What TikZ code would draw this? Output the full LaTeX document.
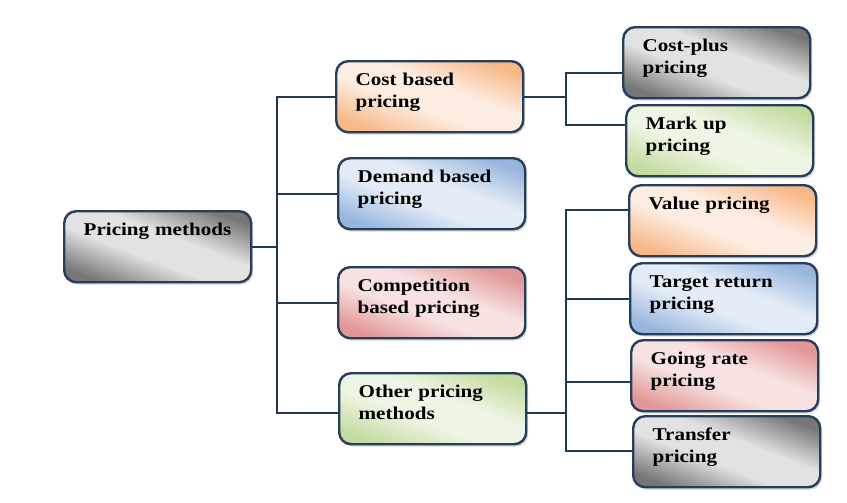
\documentclass[tikz,border=0pt]{standalone}
\usepackage{fontspec}
\setmainfont{Liberation Serif}[FakeStretch=1.17]
\usepackage{tikz}
\usetikzlibrary{shadows}
\definecolor{boxline}{RGB}{38,62,94}
\definecolor{linkcol}{RGB}{31,56,86}
\definecolor{orangedk}{RGB}{247,184,136}
\definecolor{orangelt}{RGB}{253,236,225}
\definecolor{bluedk}{RGB}{152,182,221}
\definecolor{bluelt}{RGB}{226,235,246}
\definecolor{reddk}{RGB}{226,150,150}
\definecolor{redlt}{RGB}{247,225,225}
\definecolor{greendk}{RGB}{196,219,160}
\definecolor{greenlt}{RGB}{238,245,228}
\definecolor{graydk}{RGB}{118,118,118}
\definecolor{graylt}{RGB}{226,226,226}
\newcommand{\maketint}[1]{\pgfdeclareverticalshading{#1tint}{100bp}{color(0bp)=(#1dk); color(24bp)=(#1dk); color(43bp)=(#1lt); color(57bp)=(#1lt); color(76bp)=(#1dk); color(100bp)=(#1dk)}}
\maketint{orange}
\maketint{blue}
\maketint{red}
\maketint{green}
\maketint{gray}

\begin{document}
\begin{tikzpicture}[x=0.5pt, y=-0.5pt,
            pbox/.style={draw=boxline, line width=1.2pt, rounded corners=6pt, anchor=north west,
                text width=74pt, align=left, inner xsep=9.75pt, inner ysep=5.5pt,
                text height=6.6pt, text depth=17.9pt,
                font=\fontsize{9pt}{11pt}\selectfont\bfseries,
                drop shadow={shadow xshift=1pt, shadow yshift=-1.2pt, opacity=0.3}},
            tint/.style={shade, shading=#1tint, shading angle=-21},
            link/.style={draw=linkcol, line width=1pt}]
            \useasboundingbox (0,0) rectangle (847,503);
            \node[pbox, tint=gray] (root) at (63,210) {Pricing methods};
            \node[pbox, tint=orange] (cost) at (335,60) {Cost based\\pricing};
            \node[pbox, tint=blue] (demand) at (337,157) {Demand based\\pricing};
            \node[pbox, tint=red] (comp) at (337,266) {Competition\\based pricing};
            \node[pbox, tint=green] (other) at (338,372) {Other pricing\\methods};
            \node[pbox, tint=gray] (cplus) at (622,26) {Cost-plus\\pricing};
            \node[pbox, tint=green] (markup) at (625,104) {Mark up\\pricing};
            \node[pbox, tint=orange] (value) at (628,184) {Value pricing};
            \node[pbox, tint=blue] (target) at (629,262) {Target return\\pricing};
            \node[pbox, tint=red] (going) at (630,339) {Going rate\\pricing};
            \node[pbox, tint=gray] (transfer) at (632,415) {Transfer\\pricing};
            \coordinate (t1) at (277,97);
            \coordinate (t2) at (277,413);
            \coordinate (c1) at (566,73);
            \coordinate (c2) at (566,125);
            \coordinate (o1) at (566,210);
            \coordinate (o2) at (566,451);
            \draw[link] (root.east) -- (root.east -| t1);
            \draw[link] (t1 -| cost.west) -- (t1) -- (t2) -- (t2 -| other.west);
            \draw[link] (demand.west -| t1) -- (demand.west);
            \draw[link] (comp.west -| t1) -- (comp.west);
            \draw[link] (cost.east) -- (cost.east -| c1);
            \draw[link] (c1 -| cplus.west) -- (c1) -- (c2) -- (c2 -| markup.west);
            \draw[link] (t2 -| other.east) -- (t2 -| o1);
            \draw[link] (o1 -| value.west) -- (o1) -- (o2) -- (o2 -| transfer.west);
            \draw[link] (target.west) -- (target.west -| o1);
            \draw[link] ([yshift=-3pt]going.west) -- ([yshift=-3pt]going.west -| o1);
        \end{tikzpicture}
\end{document}
